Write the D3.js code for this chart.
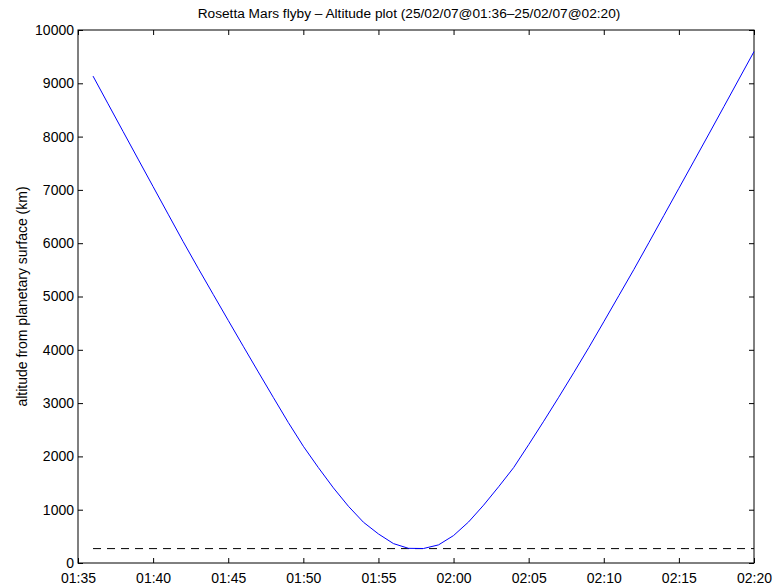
<!DOCTYPE html>
<html>
<head>
<meta charset="utf-8">
<script src="https://cdn.jsdelivr.net/npm/d3@7"></script>
<style>
    body { margin: 0; background: #fff; }
    text { font-family: "Liberation Sans", Arial, sans-serif; }
</style>
</head>
<body>
<div id="chart"></div>
<script>
// Sample times (one per minute) and altitude above Mars surface (km)
const times = ["01:36", "01:37", "01:38", "01:39", "01:40", "01:41", "01:42", "01:43", "01:44", "01:45",
    "01:46", "01:47", "01:48", "01:49", "01:50", "01:51", "01:52", "01:53", "01:54", "01:55",
    "01:56", "01:57", "01:58", "01:59", "02:00", "02:01", "02:02", "02:03", "02:04", "02:05",
    "02:06", "02:07", "02:08", "02:09", "02:10", "02:11", "02:12", "02:13", "02:14", "02:15",
    "02:16", "02:17", "02:18", "02:19", "02:20"];
const altitude = [9135, 8615, 8096, 7578, 7061, 6545, 6030, 5530, 5040, 4552,
    4067, 3585, 3108, 2636, 2190, 1790, 1410, 1065, 765, 545,
    364, 275, 272, 340, 515, 770, 1085, 1430, 1790, 2220,
    2660, 3110, 3570, 4040, 4525, 5015, 5505, 6010, 6520, 7030,
    7540, 8050, 8565, 9080, 9595];
const minAltitude = 270;

// Axis ticks
const xTicks = ["01:35", "01:40", "01:45", "01:50", "01:55", "02:00", "02:05", "02:10", "02:15", "02:20"];
const yTicks = [0, 1000, 2000, 3000, 4000, 5000, 6000, 7000, 8000, 9000, 10000];

const titleText = "Rosetta Mars flyby \u2013 Altitude plot (25/02/07@01:36\u201325/02/07@02:20)";
const yLabel = "altitude from planetary surface (km)";

// SVG dimensions
const w = 773;
const h = 586;
const xLeft = 78, xRight = 754, yTop = 30, yBottom = 563;

function toDate(s) {
    const p = s.split(":");
    return new Date(Date.UTC(2007, 1, 25, +p[0], +p[1]));
}

const data = times.map((t, i) => ({ t: toDate(t), v: altitude[i] }));

const xScale = d3.scaleUtc()
    .domain([toDate(xTicks[0]), toDate(xTicks[xTicks.length - 1])])
    .range([xLeft, xRight]);

const yScale = d3.scaleLinear()
    .domain([yTicks[0], yTicks[yTicks.length - 1]])
    .range([yBottom, yTop]);

const svg = d3.select("#chart")
    .append("svg")
    .attr("width", w)
    .attr("height", h);

const fmt = d3.utcFormat("%H:%M");

// Axes with inward ticks
svg.append("g")
    .attr("transform", "translate(0," + yBottom + ")")
    .call(d3.axisBottom(xScale).tickValues(xTicks.map(toDate)).tickFormat(fmt).tickSize(-5).tickPadding(10));

svg.append("g")
    .attr("transform", "translate(0," + yTop + ")")
    .call(d3.axisTop(xScale).tickValues(xTicks.map(toDate)).tickFormat("").tickSize(-5));

svg.append("g")
    .attr("transform", "translate(" + xLeft + ",0)")
    .call(d3.axisLeft(yScale).tickValues(yTicks).tickFormat(d3.format("d")).tickSize(-5).tickPadding(4));

svg.append("g")
    .attr("transform", "translate(" + xRight + ",0)")
    .call(d3.axisRight(yScale).tickValues(yTicks).tickFormat("").tickSize(-5));

svg.selectAll(".domain").remove();
svg.selectAll(".tick text")
    .style("font-size", "14px")
    .style("font-family", "'Liberation Sans', Arial, sans-serif")
    .attr("fill", "#000");
svg.selectAll(".tick line").attr("stroke", "#000");

// Axes box
svg.append("rect")
    .attr("x", xLeft)
    .attr("y", yTop)
    .attr("width", xRight - xLeft)
    .attr("height", yBottom - yTop)
    .attr("fill", "none")
    .attr("stroke", "#000")
    .attr("stroke-width", 1);

// Minimum altitude dashed line
svg.append("line")
    .attr("x1", xScale(data[0].t))
    .attr("x2", xScale(data[data.length - 1].t))
    .attr("y1", yScale(minAltitude))
    .attr("y2", yScale(minAltitude))
    .attr("stroke", "#000")
    .attr("stroke-width", 1)
    .attr("stroke-dasharray", "8,6");

// Altitude curve
svg.append("path")
    .datum(data)
    .attr("fill", "none")
    .attr("stroke", "#0000ff")
    .attr("stroke-width", 1)
    .attr("d", d3.line()
        .x(d => xScale(d.t))
        .y(d => yScale(d.v)));

// Title
svg.append("text")
    .attr("x", (xLeft + xRight) / 2 - 7)
    .attr("y", 18)
    .attr("text-anchor", "middle")
    .style("font-size", "13.7px")
    .text(titleText);

// Y label
svg.append("text")
    .attr("transform", "translate(27," + (yTop + yBottom) / 2 + ") rotate(-90)")
    .attr("text-anchor", "middle")
    .style("font-size", "14px")
    .text(yLabel);
</script>
</body>
</html>
